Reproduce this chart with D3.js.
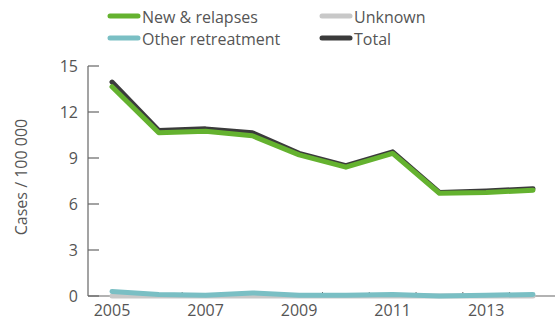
<!DOCTYPE html>
<html>
<head>
<meta charset="utf-8">
<script src="https://cdn.jsdelivr.net/npm/d3@7"></script>
<style>
  body { margin: 0; background: #fff; }
  text { font-family: "Open Sans", "Noto Sans", sans-serif; fill: #555; }
</style>
</head>
<body>
<svg id="chart" width="555" height="322"></svg>
<script>
// data
const years = [2005, 2006, 2007, 2008, 2009, 2010, 2011, 2012, 2013, 2014];
const newRelapses = [13.65, 10.65, 10.75, 10.45, 9.2, 8.4, 9.3, 6.7, 6.75, 6.9];
const otherRetreatment = [0.3, 0.1, 0.05, 0.2, 0.05, 0.05, 0.1, 0.0, 0.05, 0.1];
const unknown = [0, 0, 0, 0, 0, 0, 0, 0, 0, 0];
const total = [13.95, 10.8, 10.9, 10.65, 9.3, 8.5, 9.4, 6.75, 6.85, 7.0];
const yTicks = [0, 3, 6, 9, 12, 15];
const xLabels = [2005, 2007, 2009, 2011, 2013];

const svg = d3.select("#chart");

//*********** scales
const x = d3.scaleLinear().domain([2005, 2014]).range([112, 533]);
const y = d3.scaleLinear().domain([0, 15]).range([296, 66]);

//*********** axes
const axisG = svg.append("g");
axisG.append("line")
  .attr("x1", 88).attr("x2", 88).attr("y1", y(15)).attr("y2", y(0))
  .attr("stroke", "#666").attr("stroke-width", 1.2);
axisG.append("line")
  .attr("x1", 88).attr("x2", 555).attr("y1", y(0)).attr("y2", y(0))
  .attr("stroke", "#666").attr("stroke-width", 1.2);

axisG.selectAll(".ytick").data(yTicks).join("line")
  .attr("x1", 88).attr("x2", 99)
  .attr("y1", d => y(d)).attr("y2", d => y(d))
  .attr("stroke", "#666").attr("stroke-width", 1.2);

axisG.selectAll(".ylab").data(yTicks).join("text")
  .attr("x", 78).attr("y", d => y(d) + 6)
  .attr("text-anchor", "end")
  .attr("font-size", 16)
  .text(d => d);

// x ticks sit between the years
const xTickPos = years.slice(0, -1).map(d => d + 0.5);
axisG.selectAll(".xtick").data(xTickPos).join("line")
  .attr("x1", d => x(d)).attr("x2", d => x(d))
  .attr("y1", y(0)).attr("y2", y(0) - 4)
  .attr("stroke", "#666").attr("stroke-width", 1);

axisG.selectAll(".xlab").data(xLabels).join("text")
  .attr("x", d => x(d)).attr("y", 316)
  .attr("text-anchor", "middle")
  .attr("font-size", 16)
  .text(d => d);

svg.append("text")
  .attr("transform", "translate(27,177) rotate(-90)")
  .attr("text-anchor", "middle")
  .attr("font-size", 16)
  .text("Cases / 100 000");

//*********** lines
const series = [
  { name: "Unknown", values: unknown, color: "#c8c8c8" },
  { name: "Total", values: total, color: "#3b3b3b" },
  { name: "New & relapses", values: newRelapses, color: "#64b22f" },
  { name: "Other retreatment", values: otherRetreatment, color: "#7abfc4" }
];

const line = d3.line()
  .x((d, i) => x(years[i]))
  .y(d => y(d));

svg.append("g").selectAll("path").data(series).join("path")
  .attr("d", d => line(d.values))
  .attr("fill", "none")
  .attr("stroke", d => d.color)
  .attr("stroke-width", 5)
  .attr("stroke-linecap", "round")
  .attr("stroke-linejoin", "round");

//*********** legend
const legendItems = [
  { name: "New & relapses", color: "#64b22f", lx: 110, ly: 16 },
  { name: "Unknown", color: "#c8c8c8", lx: 322, ly: 16 },
  { name: "Other retreatment", color: "#7abfc4", lx: 110, ly: 38 },
  { name: "Total", color: "#3b3b3b", lx: 322, ly: 38 }
];

const legend = svg.append("g");
legend.selectAll("line").data(legendItems).join("line")
  .attr("x1", d => d.lx).attr("x2", d => d.lx + 28)
  .attr("y1", d => d.ly).attr("y2", d => d.ly)
  .attr("stroke", d => d.color)
  .attr("stroke-width", 5)
  .attr("stroke-linecap", "round");

legend.selectAll("text").data(legendItems).join("text")
  .attr("x", d => d.lx + 32).attr("y", d => d.ly + 7)
  .attr("font-size", 16)
  .text(d => d.name);
</script>
</body>
</html>
